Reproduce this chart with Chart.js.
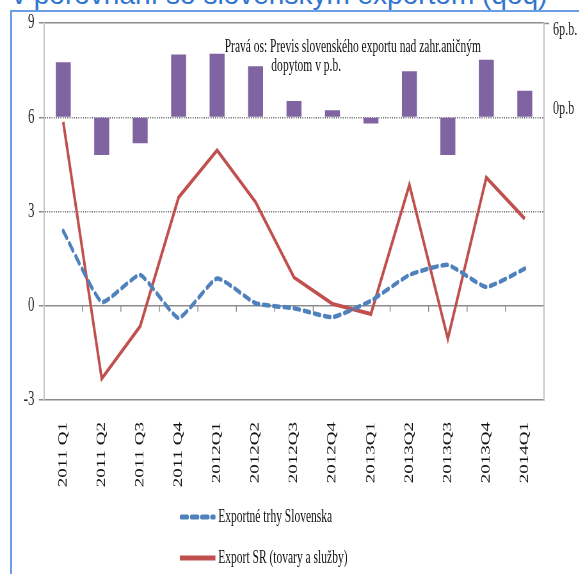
<!DOCTYPE html>
<html>
<head>
<meta charset="utf-8">
<script src="https://cdn.jsdelivr.net/npm/chart.js@4.4.1/dist/chart.umd.min.js"></script>
<style>
  body { margin: 0; width: 579px; height: 574px; overflow: hidden; background: #fff; position: relative; }
  #title { position: absolute; left: 12px; top: -21px; font: 28px "Liberation Sans", sans-serif; color: #2f74d0; white-space: nowrap; }
  #frame-top { position: absolute; left: 10px; top: 10px; width: 569px; height: 2px; background: #6a9fe3; z-index: 5; }
  #frame-left { position: absolute; left: 10px; top: 10px; width: 2px; height: 564px; background: #6a9fe3; z-index: 5; }
  /* the whole chart is squeezed horizontally like the picture */
  #stage { position: absolute; left: 0; top: 0; width: 905px; height: 574px; transform: scaleX(0.64); transform-origin: 0 0; }
  #chart { position: absolute; left: 0; top: 0; }
  .note { position: absolute; font: 18px "Liberation Serif", serif; color: #111; white-space: nowrap; line-height: 18px; }
  .leg { position: absolute; font: 18px "Liberation Serif", serif; color: #111; white-space: nowrap; display: flex; align-items: center; }
  .leg svg { margin-right: 4px; }
</style>
</head>
<body>
<div id="title">v porovnaní so slovenským exportom (qoq)</div>
<div id="frame-top"></div>
<div id="frame-left"></div>
<div id="stage">
  <canvas id="chart" width="905" height="574"></canvas>
  <div class="note" style="left:351px; top:37px;">Pravá os: Previs slovenského exportu nad zahr.aničným</div>
  <div class="note" style="left:424px; top:56px;">dopytom v p.b.</div>
  <div class="leg" style="left:281px; top:506px;">
    <svg width="56" height="8"><line x1="2" y1="4" x2="54" y2="4" stroke="#4f81bd" stroke-width="5" stroke-dasharray="10 6" stroke-linecap="round"/></svg>
    Exportné trhy Slovenska
  </div>
  <div class="leg" style="left:281px; top:547px;">
    <svg width="56" height="8"><line x1="0" y1="4" x2="56" y2="4" stroke="#c0504d" stroke-width="5"/></svg>
    Export SR (tovary a služby)
  </div>
</div>
<script>
const categories = ['2011 Q1', '2011 Q2', '2011 Q3', '2011 Q4', '2012Q1', '2012Q2', '2012Q3', '2012Q4', '2013Q1', '2013Q2', '2013Q3', '2013Q4', '2014Q1'];
const exportMarkets = [2.38, 0.12, 0.98, -0.39, 0.87, 0.08, -0.08, -0.36, 0.16, 0.98, 1.3, 0.6, 1.18];
const exportSR = [5.85, -2.32, -0.65, 3.45, 4.95, 3.3, 0.9, 0.06, -0.26, 3.85, -1.05, 4.08, 2.77];
const exportSurplus = [3.5, -2.4, -1.65, 4.0, 4.05, 3.25, 1.03, 0.44, -0.4, 2.93, -2.4, 3.66, 1.69];
const leftTicks = [-3, 0, 3, 6, 9];
const rightTicks = [6, 0];
const rightTickLabels = ['6p.b.', '0p.b'];

const axisGray = '#8c8c8c';
const sideGray = '#c4c4c4';
const serif = "'Liberation Serif', serif";

// small category ticks on the zero line + right axis labels (Excel nudges them inside)
const extras = {
    id: 'extras',
    beforeDatasetsDraw(chart) {
        const {ctx, scales: {x, y}} = chart;
        const y0 = y.getPixelForValue(0);
        ctx.save();
        ctx.strokeStyle = axisGray;
        ctx.lineWidth = 1.5;
        for (let i = 1; i < categories.length; i++) {
            const px = (x.getPixelForValue(i - 1) + x.getPixelForValue(i)) / 2;
            ctx.beginPath();
            ctx.moveTo(px, y0);
            ctx.lineTo(px, y0 + 6);
            ctx.stroke();
        }
        ctx.restore();
    },
    afterDraw(chart) {
        const {ctx, scales: {y2}} = chart;
        ctx.save();
        ctx.font = '19px ' + serif;
        ctx.fillStyle = '#222';
        ctx.textBaseline = 'middle';
        const nudge = [7, -8];
        rightTicks.forEach((v, i) => {
            ctx.fillText(rightTickLabels[i], y2.left + 14, y2.getPixelForValue(v) + nudge[i]);
        });
        ctx.restore();
    }
};

new Chart(document.getElementById('chart'), {
    data: {
        labels: categories,
        datasets: [
            {
                type: 'line',
                label: 'Exportné trhy Slovenska',
                data: exportMarkets,
                yAxisID: 'y',
                borderColor: '#4f81bd',
                borderWidth: 4.5,
                borderDash: [9, 7],
                borderCapStyle: 'round',
                tension: 0.15,
                pointRadius: 0,
                order: 1
            },
            {
                type: 'line',
                label: 'Export SR (tovary a služby)',
                data: exportSR,
                yAxisID: 'y',
                borderColor: '#c0504d',
                borderWidth: 4,
                tension: 0,
                pointRadius: 0,
                order: 2
            },
            {
                type: 'bar',
                label: 'Previs',
                data: exportSurplus,
                yAxisID: 'y2',
                backgroundColor: '#8064a2',
                barPercentage: 0.39,
                categoryPercentage: 1,
                order: 3
            }
        ]
    },
    options: {
        responsive: false,
        animation: false,
        layout: {padding: {top: 23, left: 0, right: 0, bottom: 0}},
        plugins: {legend: {display: false}, tooltip: {enabled: false}},
        scales: {
            x: {
                grid: {display: false},
                border: {display: true, color: axisGray, width: 1.5},
                ticks: {
                    maxRotation: 90,
                    minRotation: 90,
                    padding: 14,
                    color: '#111',
                    font: {family: serif, size: 19}
                },
                afterFit: s => { s.height = 174; }
            },
            y: {
                position: 'left',
                min: -3,
                max: 9,
                afterBuildTicks: s => { s.ticks = leftTicks.map(v => ({value: v})); },
                grid: {
                    color: c => (c.tick.value === 3 || c.tick.value === 6) ? '#666' : (c.tick.value === -3 ? 'rgba(0,0,0,0)' : axisGray),
                    lineWidth: 1.5,
                    tickColor: axisGray,
                    tickLength: 8
                },
                border: {
                    display: true,
                    color: sideGray,
                    width: 2,
                    dash: c => (c.tick && (c.tick.value === 3 || c.tick.value === 6)) ? [1.5, 2] : []
                },
                ticks: {
                    padding: 7,
                    color: '#222',
                    font: {family: serif, size: 20}
                },
                afterFit: s => { s.width = 68.75; }
            },
            y2: {
                position: 'right',
                min: -18,
                max: 6,
                afterBuildTicks: s => { s.ticks = rightTicks.map(v => ({value: v})); },
                grid: {
                    drawOnChartArea: false,
                    tickColor: c => c.tick.value === 6 ? axisGray : 'rgba(0,0,0,0)',
                    tickLength: 8,
                    tickWidth: 1.5
                },
                border: {display: true, color: sideGray, width: 2},
                ticks: {display: false},
                afterFit: s => { s.width = 55; }
            }
        }
    },
    plugins: [extras]
});
</script>
</body>
</html>
